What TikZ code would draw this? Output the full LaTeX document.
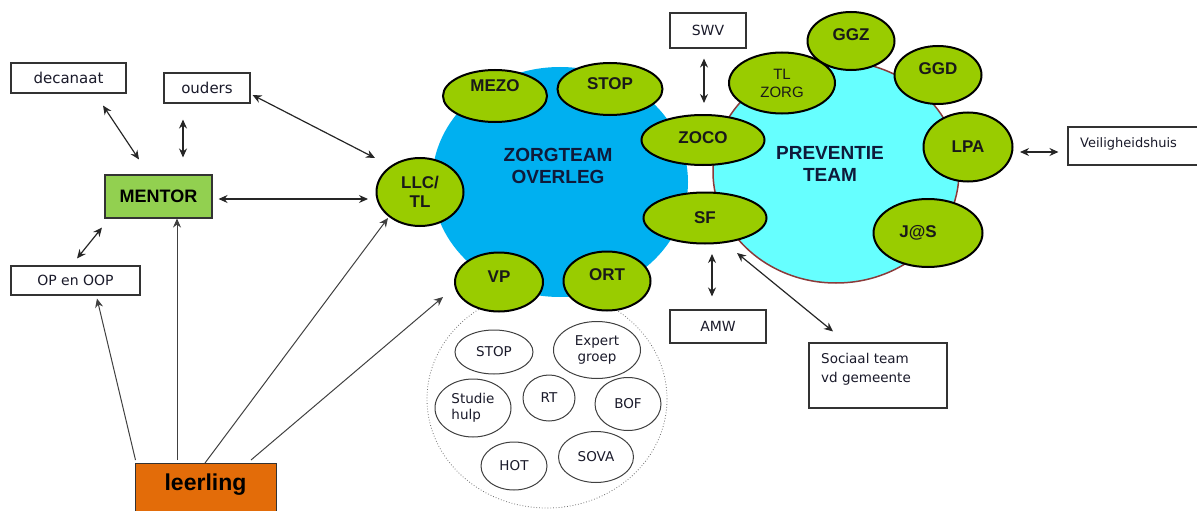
\documentclass[tikz,border=0pt]{standalone}
\usepackage{fontspec}
\setmainfont{DejaVu Sans}
\newfontfamily\arialf{Liberation Sans}
\usetikzlibrary{shapes.geometric,arrows.meta,calc}
\definecolor{zblue}{HTML}{00B0F0}
\definecolor{pcyan}{HTML}{66FFFF}
\definecolor{ggreen}{HTML}{99CC00}
\definecolor{mgreen}{HTML}{92D050}
\definecolor{lorange}{HTML}{E36C09}
\definecolor{pborder}{HTML}{8B3A3A}
\definecolor{navy}{HTML}{0F1A3A}
\definecolor{ink}{HTML}{1A1A2A}
\tikzset{
  box/.style={draw=black!80, line width=1.1pt, fill=white, inner sep=0pt, text=ink, font=\fontsize{14}{17}\selectfont},
  gel/.style={ellipse, draw=black, line width=2pt, fill=ggreen, inner sep=0pt},
  gtxt/.style={font=\arialf\bfseries\fontsize{17}{19}\selectfont, text=black!90, align=center, inner sep=0pt},
  wel/.style={ellipse, draw=black!75, line width=1pt, fill=white, inner sep=0pt, font=\fontsize{13.5}{16}\selectfont, text=ink, align=center},
  bigtxt/.style={font=\arialf\bfseries\fontsize{19}{22.5}\selectfont, text=navy, align=center, inner sep=0pt},
  arr/.style={<->, >={Stealth[length=9pt,width=8pt]}, line width=1.2pt, draw=black!85},
  lne/.style={-{Stealth[length=9pt,width=8pt]}, line width=1pt, draw=black!75}
}
\begin{document}
\begin{tikzpicture}[x=1pt,y=-1pt]
\useasboundingbox (0,0) rectangle (1197,511);
% pool of small services
\node[ellipse, draw=black!55, dotted, line width=0.8pt, minimum width=240pt, minimum height=218pt] (pool) at (547,399) {};
% big team circles
\node[ellipse, fill=pcyan, draw=pborder, line width=1.5pt, minimum width=246pt, minimum height=222pt,
  label={[bigtxt, yshift=8pt, xshift=-6pt]center:PREVENTIE\\TEAM}] (prev) at (836,172) {};
\node[ellipse, fill=zblue, inner sep=0pt, minimum width=256pt, minimum height=230pt,
  label={[bigtxt, yshift=16pt, xshift=-2pt]center:ZORGTEAM\\OVERLEG}] (zorg) at (560,182) {};
% green members
\node[gel, minimum width=104pt, minimum height=52pt, label={[gtxt,yshift=10pt]center:MEZO}] (mezo) at (495,96) {};
\node[gel, minimum width=105pt, minimum height=52pt, label={[gtxt,yshift=5pt]center:STOP}] (stop) at (610,89) {};
\node[gel, minimum width=87pt, minimum height=68pt, label={[gtxt]center:LLC/\\TL}] (llc) at (420,192) {};
\node[gel, minimum width=88pt, minimum height=59pt, label={[gtxt,yshift=5pt]center:VP}] (vp) at (499,282) {};
\node[gel, minimum width=87pt, minimum height=59pt, label={[gtxt,yshift=6pt]center:ORT}] (ort) at (607,281) {};
\node[gel, minimum width=123pt, minimum height=50pt, label={[gtxt,yshift=2pt]center:ZOCO}] (zoco) at (703,140) {};
\node[gel, minimum width=123pt, minimum height=51pt, label={[gtxt]center:SF}] (sf) at (705,218) {};
\node[gel, minimum width=106pt, minimum height=61pt, label={[gtxt,font=\arialf\fontsize{15}{18}\selectfont]center:TL\\ZORG}] (tlzorg) at (782,83) {};
\node[gel, minimum width=87pt, minimum height=58pt, label={[gtxt,yshift=6pt]center:GGZ}] (ggz) at (851,41) {};
\node[gel, minimum width=87pt, minimum height=58pt, label={[gtxt,yshift=6pt]center:GGD}] (ggd) at (938,75) {};
\node[gel, minimum width=89pt, minimum height=69pt, label={[gtxt]center:LPA}] (lpa) at (968,147) {};
\node[gel, minimum width=109pt, minimum height=68pt, label={[gtxt,xshift=-10pt]center:J@S}] (jas) at (928,233) {};
% small white services
\node[wel, minimum width=78pt, minimum height=44pt] (s1) at (494,352) {STOP};
\node[wel, minimum width=87pt, minimum height=57pt] (s2) at (597,350) {Expert\\groep};
\node[wel, minimum width=76pt, minimum height=58pt, align=left] (s3) at (473,408) {Studie\\hulp};
\node[wel, minimum width=52pt, minimum height=46pt] (s4) at (549,398) {RT};
\node[wel, minimum width=66pt, minimum height=53pt] (s5) at (628,404) {BOF};
\node[wel, minimum width=66pt, minimum height=48pt] (s6) at (514,466) {HOT};
\node[wel, minimum width=75pt, minimum height=51pt] (s7) at (596,457) {SOVA};
% boxes
\node[box, minimum width=115pt, minimum height=30pt, font=\fontsize{15}{18}\selectfont] (dec) at (68.5,78) {decanaat};
\node[box, minimum width=86pt, minimum height=30pt, font=\fontsize{15}{18}\selectfont] (oud) at (207,88) {ouders};
\node[box, fill=mgreen, minimum width=107pt, minimum height=43pt, font=\arialf\bfseries\fontsize{18}{20}\selectfont, text=black] (mentor) at (158.5,196.5) {MENTOR};
\node[box, minimum width=129pt, minimum height=29pt] (op) at (75.5,280.5) {OP en OOP};
\node[draw=black!80, line width=1pt, fill=lorange, anchor=north, minimum width=141pt, inner sep=0pt,
  text height=27pt, text depth=25pt, font=\arialf\bfseries\fontsize{23}{26}\selectfont, text=black] (leer) at (205.5,463) {leerling};
\node[box, minimum width=76pt, minimum height=35pt] (swv) at (708,30.5) {SWV};
\node[box, minimum width=96pt, minimum height=33pt] (amw) at (718,326.5) {AMW};
\node[box, minimum width=138pt, minimum height=65pt] (soc) at (878,375.5) {};
\node[anchor=north west, align=left, inner sep=0pt, text=ink, font=\fontsize{13.5}{19}\selectfont] (soctxt) at (821,353) {Sociaal team\\vd gemeente};
\node[box, minimum width=142pt, minimum height=38pt] (vh) at (1139,146) {};
\node[anchor=west, inner sep=0pt, text=ink, font=\fontsize{13}{16}\selectfont] (vhtxt) at (1080,144) {Veiligheidshuis};
% double arrows
\draw[arr] ($(dec.south)+(34.5,12)$) -- ($(mentor.north)+(-19.5,-15)$);
\draw[arr] ($(oud.south)+(-24,16)$) -- ($(mentor.north)+(24.5,-17)$);
\draw[arr] ($(oud.east)+(2,7)$) -- ($(llc.center)+(-45,-34)$);
\draw[arr] ($(mentor.east)+(6,2.5)$) -- ($(llc.center)+(-52,7)$);
\draw[arr] ($(mentor.south)+(-56.5,9)$) -- ($(op.north)+(1.5,-7)$);
\draw[arr] ($(swv.south)+(-4,10)$) -- ($(zoco.north)+(1,-11)$);
\draw[arr] ($(lpa.east)+(6.5,5)$) -- ($(vh.west)+(-9,6)$);
\draw[arr] ($(sf.south)+(7,9.5)$) -- ($(amw.north)+(-6,-13)$);
\draw[arr] ($(sf.center)+(32,35)$) -- ($(soc.north)+(-45,-11)$);
% leerling lines
\draw[lne] ($(leer.north west)+(1,-3)$) -- ($(op.south)+(21.5,3)$);
\draw[lne] ($(leer.north)+(-28.5,-3)$) -- ($(mentor.south)+(18.5,0)$);
\draw[lne] ($(leer.north)+(-0.5,0)$) -- ($(llc.center)+(-32,26)$);
\draw[lne] ($(leer.north)+(45.5,-3)$) -- ($(vp.center)+(-56,15)$);
\end{tikzpicture}
\end{document}
